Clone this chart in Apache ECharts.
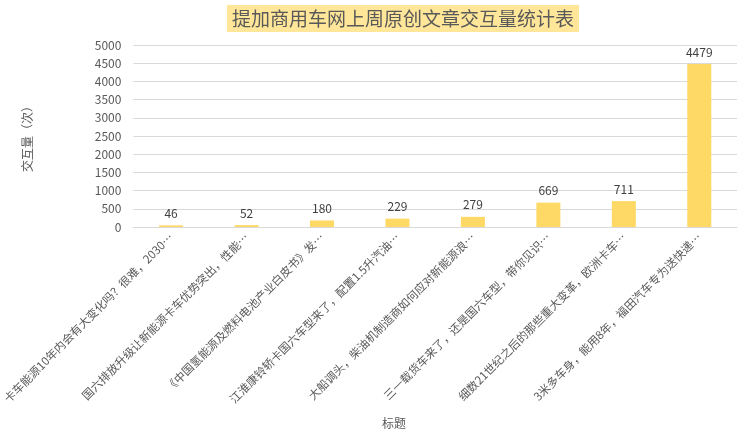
<!DOCTYPE html>
<html>
<head>
<meta charset="utf-8">
<script src="https://cdn.jsdelivr.net/npm/echarts@6/dist/echarts.min.js"></script>
<style>
    html, body { margin: 0; padding: 0; background: #fff; }
    #chart { width: 749px; height: 445px; }
</style>
</head>
<body>
<div id="chart"></div>
<script>
// 标题（已截断）
var titles = [
    '卡车能源10年内会有大变化吗？很难，2030…',
    '国六排放升级让新能源卡车优势突出，性能…',
    '《中国氢能源及燃料电池产业白皮书》发…',
    '江淮康铃轿卡国六车型来了，配置1.5升汽油…',
    '大船调头，柴油机制造商如何应对新能源浪…',
    '三一载货车来了，还是国六车型，带你见识…',
    '细数21世纪之后的那些重大变革，欧洲卡车…',
    '3米多车身，能用8年，福田汽车专为送快递…'
];
// 交互量
var counts = [46, 52, 180, 229, 279, 669, 711, 4479];

var font = '"Noto Sans CJK SC", "Noto Sans", sans-serif';
var chart = echarts.init(document.getElementById('chart'));

var option = {
    animation: false,
    textStyle: { fontFamily: font },
    title: [{
        text: '提加商用车网上周原创文章交互量统计表',
        left: 227,
        top: 5,
        padding: [4, 5, 4, 5],
        backgroundColor: '#ffe699',
        textStyle: { fontSize: 19, fontWeight: 'normal', color: '#595959', fontFamily: font }
    }, {
        text: '标题',
        left: 382,
        top: 417,
        padding: 0,
        textStyle: { fontSize: 12, fontWeight: 'normal', color: '#595959', fontFamily: font }
    }],
    grid: {
        left: 127,
        right: 12,
        top: 45,
        bottom: 218
    },
    xAxis: {
        type: 'category',
        data: titles,
        axisLine: { lineStyle: { color: '#d9d9d9' } },
        axisTick: { show: false },
        axisLabel: {
            interval: 0,
            rotate: 45,
            margin: 8,
            fontSize: 11.5,
            color: '#595959',
            fontFamily: font
        }
    },
    yAxis: {
        type: 'value',
        min: 0,
        max: 5000,
        interval: 500,
        name: '交互量（次）',
        nameLocation: 'middle',
        nameGap: 100,
        nameRotate: 90,
        nameTextStyle: { fontSize: 12, color: '#595959' },
        axisLine: { show: false },
        axisTick: { show: false },
        axisLabel: {
            fontSize: 12,
            color: '#595959',
            margin: 12,
            formatter: function (v) { return String(v); }
        },
        splitLine: { lineStyle: { color: '#d9d9d9' } }
    },
    series: [{
        type: 'bar',
        data: counts,
        barWidth: 24,
        itemStyle: { color: '#ffd966' },
        label: {
            show: true,
            position: 'top',
            distance: 6,
            fontSize: 12,
            color: '#404040'
        }
    }]
};

chart.setOption(option);
</script>
</body>
</html>
